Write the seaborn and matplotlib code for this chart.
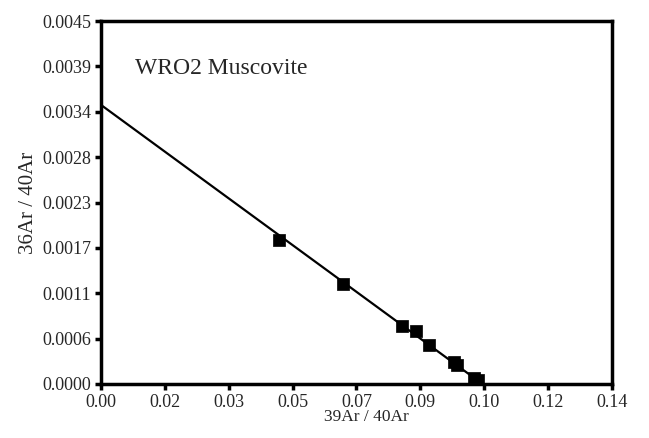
import numpy as np
import pandas as pd
import seaborn as sns
import matplotlib.pyplot as plt

# data
ar39_ar40 = [0.0488, 0.0663, 0.0825, 0.0863, 0.0899, 0.0967, 0.0975, 0.1022, 0.1033]
ar36_ar40 = [0.00179, 0.00124, 0.00072, 0.00066, 0.00048, 0.00027, 0.00024, 0.00007, 0.00005]

# isochron line end points
fit_x = [0.0, 0.1045]
fit_y = [0.00346, 0.0]

xticks = [0.0, 0.0175, 0.035, 0.0525, 0.07, 0.0875, 0.105, 0.1225, 0.14]
xlabels = ["0.00", "0.02", "0.03", "0.05", "0.07", "0.09", "0.10", "0.12", "0.14"]
yticks = [0.0, 0.0005625, 0.001125, 0.0016875, 0.00225, 0.0028125, 0.003375, 0.0039375, 0.0045]
ylabels = ["0.0000", "0.0006", "0.0011", "0.0017", "0.0023", "0.0028", "0.0034", "0.0039", "0.0045"]

df = pd.DataFrame({"x": ar39_ar40, "y": ar36_ar40})

sns.set_style("white")
plt.rcParams["font.family"] = ["Liberation Serif", "DejaVu Serif"]

fig = plt.figure(figsize=(6.49, 4.38), dpi=100)
ax = fig.add_axes([0.1556, 0.1233, 0.7874, 0.8287])

sns.lineplot(x=fit_x, y=fit_y, ax=ax, color="black", linewidth=1.6)
sns.scatterplot(data=df, x="x", y="y", ax=ax, marker="s", s=80,
                color="black", edgecolor="black", linewidth=0.5, zorder=3)

ax.set_xlim(0, 0.14)
ax.set_ylim(0, 0.0045)
ax.set_xticks(xticks)
ax.set_xticklabels(xlabels)
ax.set_yticks(yticks)
ax.set_yticklabels(ylabels)
ax.tick_params(bottom=True, left=True, direction="out", length=4, width=2.5,
               labelsize=13, color="black", pad=3)

for sp in ax.spines.values():
    sp.set_visible(True)
    sp.set_linewidth(2.5)
    sp.set_color("black")

ax.set_xlabel("39Ar / 40Ar", fontsize=12.5, labelpad=-1)
ax.xaxis.set_label_coords(0.52, -0.07)
ax.set_ylabel("36Ar / 40Ar", fontsize=15, labelpad=3)
ax.text(0.067, 0.855, "WRO2 Muscovite", transform=ax.transAxes, fontsize=17)

fig.savefig("out.png", dpi=100)
